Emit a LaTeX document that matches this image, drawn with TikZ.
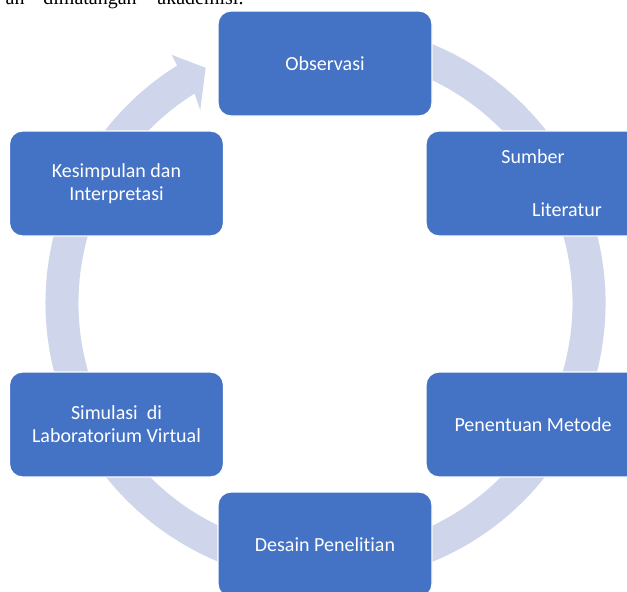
\documentclass[tikz,border=0pt]{standalone}
\usepackage{fontspec}
\setmainfont{Carlito}[Ligatures=NoCommon]
\newfontfamily\teksserif{Liberation Serif}
\definecolor{biru}{HTML}{4472C4}
\definecolor{cincin}{HTML}{CFD5EA}

\begin{document}
\begin{tikzpicture}[x=0.5pt, y=0.5pt,
    blok/.style={draw=white, line width=0.6pt, fill=biru, rounded corners=6.5pt,
        minimum width=107pt, minimum height=52.5pt, inner sep=0pt,
        text=white, align=center, font=\fontsize{10}{11.5}\selectfont},
    baris/.style={anchor=base west, inner sep=0pt, font=\teksserif\fontsize{10}{12}\selectfont}]
    \useasboundingbox (0,0) rectangle (627,591);
    \clip (0,0) rectangle (627,591);

    % Sisa baris teks di atas
    \node[baris, anchor=base east] (kata1) at (25,586.5) {an};
    \node[baris] (kata2) at (43,586.5) {dimatangan};
    \node[baris] (kata3) at (157,586.5) {akademisi.};

    % Cincin dengan kepala panah
    \fill[cincin, shift={(325.5,288)}]
        (105:280) arc[start angle=105, end angle=-238, radius=280]
        -- (-238.2:292) -- (-243:264) -- (-237:230) -- (-238:247)
        arc[start angle=-238, end angle=105, radius=247] -- cycle;

    % Kotak-kotak
    \node[blok] (obs) at (325,527.5) {Observasi};
    \node[blok] (sumber) at (533,407.5) {Sumber\\[15pt]\hspace*{34pt}Literatur};
    \node[blok] (metode) at (533,166.5) {Penentuan Metode};
    \node[blok] (desain) at (325,46.5) {Desain Penelitian};
    \node[blok] (simulasi) at (116.5,166.5) {Simulasi\ \ di\\Laboratorium Virtual};
    \node[blok] (kesimpulan) at (116.5,407.5) {Kesimpulan dan\\Interpretasi};
\end{tikzpicture}
\end{document}
